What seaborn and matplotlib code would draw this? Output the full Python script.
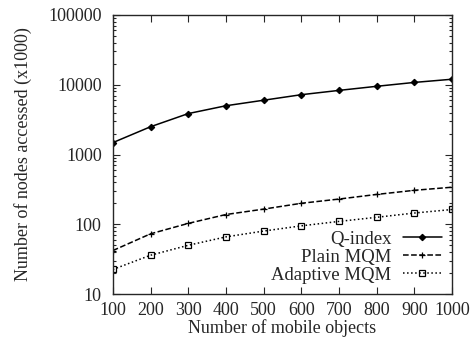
import numpy as np
import pandas as pd
import matplotlib
matplotlib.use('Agg')
import matplotlib.pyplot as plt
import seaborn as sns
from matplotlib.ticker import LogLocator

# values
objects = [100, 200, 300, 400, 500, 600, 700, 800, 900, 1000]
q_index = [1480, 2500, 3860, 5000, 6000, 7200, 8300, 9500, 10800, 12000]
plain_mqm = [42, 73, 103, 138, 165, 200, 230, 268, 307, 340]
adaptive_mqm = [22.5, 36, 50, 66, 80, 95, 110, 126, 145, 163]

sns.set_style('ticks')
plt.rcParams['font.family'] = ['Liberation Serif', 'DejaVu Serif']
plt.rcParams['font.size'] = 13

fig = plt.figure(figsize=(4.74, 3.48), dpi=100)
ax = fig.add_axes([0.238, 0.155, 0.716, 0.802])

series = [
    ('Q-index', q_index, '-', 'D', 'black', 3.2),
    ('Plain MQM', plain_mqm, '--', '+', 'black', 5),
    ('Adaptive MQM', adaptive_mqm, ':', 's', 'none', 4.5),
]
for name, vals, ls, mk, fc, ms in series:
    df = pd.DataFrame({'x': objects, 'y': vals})
    sns.lineplot(data=df, x='x', y='y', ax=ax, color='black', linestyle=ls,
                 marker=mk, markersize=ms, markerfacecolor=fc,
                 markeredgecolor='black', markeredgewidth=0.9,
                 linewidth=1.1, label=name)

ax.set_yscale('log')
ax.set_xlim(100, 1000)
ax.set_ylim(10, 100000)
ax.set_xticks(objects)
ax.set_yticks([10, 100, 1000, 10000, 100000])
ax.set_yticklabels(['10', '100', '1000', '10000', '100000'])
ax.yaxis.set_minor_locator(LogLocator(base=10, subs=np.arange(2, 10)))
ax.yaxis.set_minor_formatter(plt.NullFormatter())
ax.tick_params(which='both', direction='in', top=True, right=True, width=0.8)
ax.tick_params(which='major', length=5, labelsize=13)
ax.tick_params(axis='y', which='major', pad=8)
ax.tick_params(axis='x', which='major', pad=6)
ax.tick_params(which='minor', length=2.5)
for s in ax.spines.values():
    s.set_linewidth(1.0)
    s.set_visible(True)

ax.set_xlabel('Number of mobile objects', fontsize=13, labelpad=0)
ax.set_ylabel('Number of nodes accessed (x1000)', fontsize=13, labelpad=12)

leg = ax.legend(loc='lower right', frameon=False, markerfirst=False,
                fontsize=13.5, handlelength=2.1, labelspacing=0.05,
                borderaxespad=0.15, handletextpad=0.6)
leg._legend_box.align = 'right'

fig.savefig('out.png', dpi=100)
